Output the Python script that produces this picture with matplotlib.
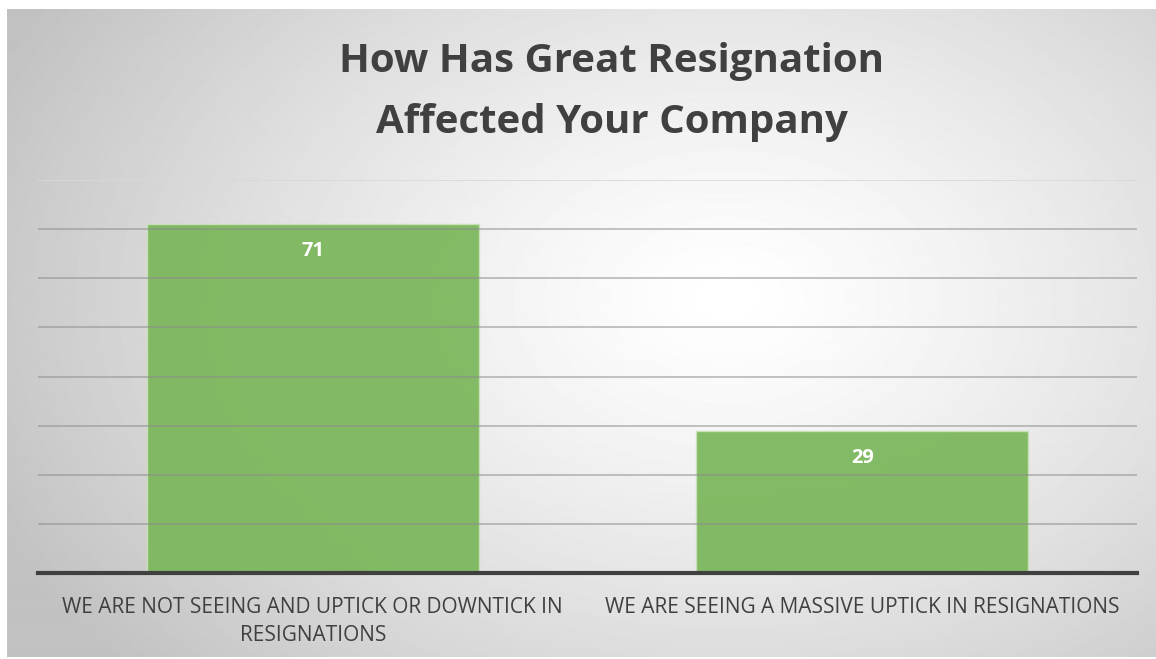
import numpy as np
import matplotlib.pyplot as plt

categories = ["WE ARE NOT SEEING AND UPTICK OR DOWNTICK IN\nRESIGNATIONS",
              "WE ARE SEEING A MASSIVE UPTICK IN RESIGNATIONS"]
values = [71, 29]
title = "How Has Great Resignation\nAffected Your Company"

W, H = 1156, 659
fig = plt.figure(figsize=(W / 100, H / 100), dpi=100)
fig.patch.set_facecolor("white")

# radial gradient background panel
bg = fig.add_axes([7 / W, 2 / H, 1 - 7 / W, 1 - 11 / H])
yy, xx = np.mgrid[0:650, 0:1149]
cx, cy = 720, 290
d = np.sqrt(((xx - cx) / 800.0) ** 2 + ((yy - cy) / 560.0) ** 2)
shade = 1.0 - 0.24 * np.clip(d, 0, 1) ** 1.3
bg.imshow(shade, cmap="gray", vmin=0, vmax=1, aspect="auto",
          extent=[0, 1, 0, 1], origin="upper")
bg.set_axis_off()

ax = fig.add_axes([38 / W, 1 - 573 / H, (1137 - 38) / W, (573 - 180) / H])
ax.patch.set_alpha(0)
x = np.arange(len(values))
bars = ax.bar(x, values, width=0.605, color="#7db75d", edgecolor="#c9e2b8",
              linewidth=1.0, alpha=0.95, zorder=2)
ax.set_xlim(-0.5, 1.5)
ax.set_ylim(0, 80)
ax.set_yticks(np.arange(10, 71, 10))
ax.yaxis.grid(True, color="#8c8c8c", linewidth=1.2, alpha=0.6, zorder=3)
ax.axhline(80, color="#d8d8d8", linewidth=1.2, zorder=3)
ax.set_axisbelow(False)
ax.tick_params(axis="y", left=False, labelleft=False)
ax.tick_params(axis="x", bottom=False, pad=14)
for s in ["top", "right", "left"]:
    ax.spines[s].set_visible(False)
ax.spines["bottom"].set_color("#404040")
ax.spines["bottom"].set_linewidth(3)
ax.spines["bottom"].set_zorder(5)

ax.set_xticks(x)
ax.set_xticklabels(categories, fontsize=15, color="#404040",
                   family="Open Sans", linespacing=1.4)

for b, v in zip(bars, values):
    ax.text(b.get_x() + b.get_width() / 2, v - 5.5, str(v), ha="center",
            va="center", color="white", fontsize=14.5, fontweight="bold",
            family="Open Sans", zorder=6)

fig.text(0.529, 1 - 92 / H, title, ha="center", va="center", fontsize=29,
         fontweight="bold", color="#404040", family="Open Sans",
         linespacing=1.72)

fig.savefig("out.png", dpi=100)
